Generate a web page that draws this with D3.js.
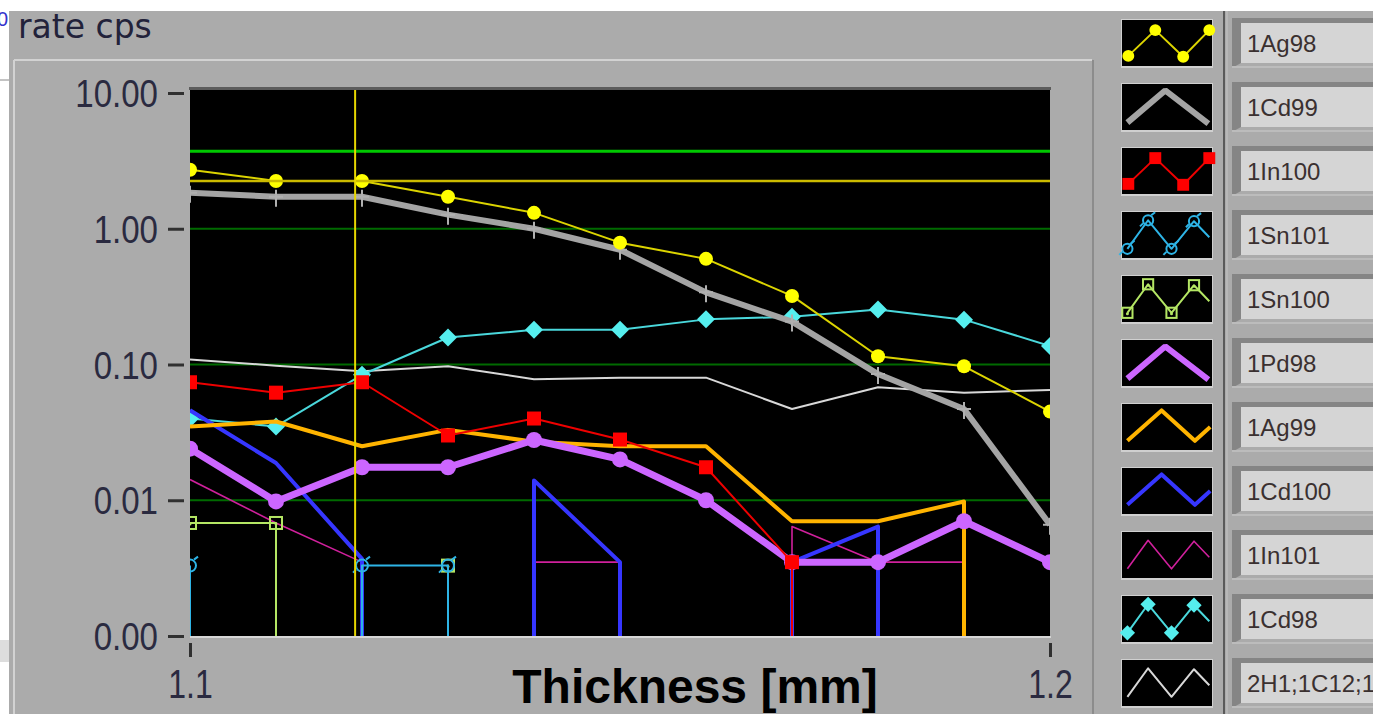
<!DOCTYPE html>
<html>
<head>
<meta charset="utf-8">
<script src="https://cdn.jsdelivr.net/npm/d3@7"></script>
<style>
  body { margin: 0; background: #fff; }
  svg { display: block; }
</style>
</head>
<body>
<svg width="1373" height="714"></svg>
<script>
//data
var thickness = [1.10, 1.11, 1.12, 1.13, 1.14, 1.15, 1.16, 1.17, 1.18, 1.19, 1.20];
var names = ['1Ag98', '1Cd99', '1In100', '1Sn101', '1Sn100', '1Pd98', '1Ag99', '1Cd100', '1In101', '1Cd98', '2H1;1C12;1'];
var ag98  = [2.72, 2.25, 2.25, 1.72, 1.31, 0.79, 0.60, 0.32, 0.115, 0.097, 0.045];
var cd99  = [1.84, 1.72, 1.72, 1.27, 1.0, 0.70, 0.34, 0.207, 0.085, 0.047, 0.0066];
var in100 = [0.074, 0.062, 0.074, 0.030, 0.040, 0.028, 0.0175, 0.0035, 0, 0, 0];
var sn101 = [0.0033, 0, 0.0033, 0.0033, 0, 0, 0, 0, 0, 0, 0];
var sn100 = [0.0068, 0.0068, 0, 0.0033, 0, 0, 0, 0, 0, 0, 0];
var pd98  = [0.024, 0.0098, 0.0175, 0.0175, 0.0278, 0.020, 0.010, 0.0035, 0.0035, 0.007, 0.0035];
var ag99  = [0.035, 0.038, 0.025, 0.033, 0.027, 0.025, 0.025, 0.0070, 0.0070, 0.0098, 0];
var cd100 = [0.046, 0.0188, 0.0037, 0, 0.014, 0.0035, 0, 0.0035, 0.0064, 0, 0];
var in101 = [0.0142, 0.0068, 0.0035, 0, 0.0035, 0.0035, 0, 0.0064, 0.0035, 0.0035, 0];
var cd98  = [0.040, 0.035, 0.084, 0.158, 0.18, 0.18, 0.215, 0.225, 0.254, 0.214, 0.137];
var h1c12 = [0.109, 0.098, 0.089, 0.097, 0.078, 0.08, 0.08, 0.047, 0.068, 0.062, 0.065];
var seriesValues = [ag98, cd99, in100, sn101, sn100, pd98, ag99, cd100, in101, cd98, h1c12];
var yTicks = [0.001, 0.01, 0.1, 1, 10];
var xTicks = [1.1, 1.2];
var gridValues = [0.01, 0.1, 1];
//cursors
var greenCursor = 3.73;
var yellowCursorY = 2.25;
var yellowCursorX = 1.1192;

//plot styles, same order as names
var styles = [
  {color: '#dcd400', fill: '#ffff00', width: 2, marker: 'circle', size: 7, legend: 'w4'},
  {color: '#a4a4a4', fill: '#a4a4a4', width: 6, marker: 'plus', size: 7, legend: 'peak'},
  {color: '#ee0000', fill: '#ff0000', width: 2, marker: 'square', size: 7, legend: 'w4'},
  {color: '#2eb4e6', fill: 'none', width: 2, marker: 'ring', size: 6, legend: 'w5'},
  {color: '#b4e664', fill: 'none', width: 2, marker: 'box', size: 6, legend: 'w5'},
  {color: '#cc66ff', fill: '#cc66ff', width: 7, marker: 'circle', size: 8, legend: 'peak'},
  {color: '#ffb400', fill: '#ffb400', width: 4, marker: null, size: 0, legend: 'w4m'},
  {color: '#3636ff', fill: '#3636ff', width: 4, marker: null, size: 0, legend: 'w4m'},
  {color: '#d0209c', fill: '#d0209c', width: 1.6, marker: null, size: 0, legend: 'w5'},
  {color: '#4ad8dc', fill: '#55eeee', width: 2, marker: 'diamond', size: 9, legend: 'w5'},
  {color: '#d8d8d8', fill: '#d8d8d8', width: 2, marker: null, size: 0, legend: 'w5'}
];
//legend swatch shapes (fractions of the swatch box)
var swatchShapes = {
  w4:   [[0.07, 0.78], [0.37, 0.22], [0.68, 0.8], [0.97, 0.22]],
  w4m:  [[0.06, 0.8], [0.44, 0.14], [0.81, 0.8], [0.98, 0.5]],
  peak: [[0.06, 0.84], [0.48, 0.14], [0.96, 0.86]],
  w5:   [[0.06, 0.8], [0.29, 0.18], [0.55, 0.8], [0.8, 0.2], [0.97, 0.55]]
};

var svg = d3.select('svg');
var svgWidth = +svg.attr('width');
var svgHeight = +svg.attr('height');
var plot = {l: 190, t: 90, r: 1050, b: 636};

//scales
var xScale = d3.scaleLinear().domain([1.1, 1.2]).range([plot.l, plot.r]);
var yScale = d3.scaleLog().domain([0.001, 10]).range([plot.b, 93]);

//background bits outside the panel
svg.append('rect').attr('width', svgWidth).attr('height', svgHeight).attr('fill', '#fff');
svg.append('text').attr('x', -3).attr('y', 26).attr('fill', '#3333cc')
  .style('font', '20px "Liberation Sans"').text('0');
svg.append('line').attr('x1', 0).attr('x2', 10).attr('y1', 80).attr('y2', 80)
  .attr('stroke', '#888').attr('stroke-width', 1);
svg.append('rect').attr('x', 0).attr('y', 640).attr('width', 9).attr('height', 22).attr('fill', '#ddd');

//panel
svg.append('rect').attr('x', 9).attr('y', 11).attr('width', svgWidth - 9).attr('height', svgHeight - 11)
  .attr('fill', '#ababab');
svg.append('line').attr('x1', 14).attr('x2', 1092).attr('y1', 60).attr('y2', 60)
  .attr('stroke', '#d2d2d2').attr('stroke-width', 2);
svg.append('line').attr('x1', 14).attr('x2', 14).attr('y1', 60).attr('y2', svgHeight)
  .attr('stroke', '#d2d2d2').attr('stroke-width', 2);
svg.append('line').attr('x1', 1093).attr('x2', 1093).attr('y1', 60).attr('y2', svgHeight)
  .attr('stroke', '#8c8c8c').attr('stroke-width', 2);
svg.append('line').attr('x1', 1224).attr('x2', 1224).attr('y1', 11).attr('y2', svgHeight)
  .attr('stroke', '#5a5a5a').attr('stroke-width', 2);
svg.append('line').attr('x1', 1227).attr('x2', 1227).attr('y1', 11).attr('y2', svgHeight)
  .attr('stroke', '#c4c4c4').attr('stroke-width', 1);

svg.append('text').attr('x', 18).attr('y', 38).attr('fill', '#22223a')
  .style('font', '33px "DejaVu Sans"').text('rate cps');

//plot area
svg.append('rect').attr('x', plot.l - 1).attr('y', plot.t - 3).attr('width', plot.r - plot.l + 2).attr('height', 3)
  .attr('fill', '#5c5c5c');
svg.append('rect').attr('x', plot.l).attr('y', plot.t).attr('width', plot.r - plot.l).attr('height', plot.b - plot.t)
  .attr('fill', '#000');
svg.append('rect').attr('x', plot.l).attr('y', plot.b).attr('width', plot.r - plot.l + 1).attr('height', 2)
  .attr('fill', '#d6d6d6');
svg.append('clipPath').attr('id', 'clip').append('rect')
  .attr('x', plot.l).attr('y', plot.t).attr('width', plot.r - plot.l).attr('height', plot.b - plot.t);

var plotG = svg.append('g').attr('clip-path', 'url(#clip)');

//grid
plotG.selectAll('.grid').data(gridValues).enter().append('line')
  .attr('class', 'grid')
  .attr('x1', plot.l).attr('x2', plot.r)
  .attr('y1', function(d) { return yScale(d); })
  .attr('y2', function(d) { return yScale(d); })
  .attr('stroke', '#006a00').attr('stroke-width', 2);

//zero values drop to the bottom edge, LabVIEW style
function toSegments(vals) {
  var segs = [], cur = [];
  vals.forEach(function(v, i) {
    if (v > 0) {
      if (cur.length === 0 && i > 0) cur.push([xScale(thickness[i]), plot.b + 4]);
      cur.push([xScale(thickness[i]), yScale(v)]);
    } else if (cur.length > 0) {
      cur.push([xScale(thickness[i - 1]), plot.b + 4]);
      segs.push(cur);
      cur = [];
    }
  });
  if (cur.length) segs.push(cur);
  return segs;
}

function drawMarker(g, st, cx, cy, k) {
  var s = st.size * k;
  if (st.marker === 'circle') {
    g.append('circle').attr('cx', cx).attr('cy', cy).attr('r', s).attr('fill', st.fill);
  } else if (st.marker === 'square') {
    g.append('rect').attr('x', cx - s).attr('y', cy - s).attr('width', 2 * s).attr('height', 2 * s).attr('fill', st.fill);
  } else if (st.marker === 'diamond') {
    g.append('path').attr('d', 'M' + cx + ',' + (cy - s) + 'L' + (cx + s) + ',' + cy + 'L' + cx + ',' + (cy + s) + 'L' + (cx - s) + ',' + cy + 'Z')
      .attr('fill', st.fill);
  } else if (st.marker === 'plus') {
    g.append('path').attr('d', 'M' + (cx - s) + ',' + cy + 'H' + (cx + s) + 'M' + cx + ',' + (cy - s) + 'V' + (cy + s + 3))
      .attr('stroke', '#b0b0b0').attr('stroke-width', 2).attr('fill', 'none');
  } else if (st.marker === 'ring') {
    g.append('circle').attr('cx', cx).attr('cy', cy).attr('r', s).attr('fill', 'none')
      .attr('stroke', st.color).attr('stroke-width', 2);
    g.append('path').attr('d', 'M' + (cx + s - 2) + ',' + (cy - s) + 'l4,-3M' + (cx - s) + ',' + (cy + s - 2) + 'l-3,3')
      .attr('stroke', st.color).attr('stroke-width', 2);
  } else if (st.marker === 'box') {
    g.append('rect').attr('x', cx - s).attr('y', cy - s).attr('width', 2 * s).attr('height', 2 * s).attr('fill', 'none')
      .attr('stroke', st.color).attr('stroke-width', 2);
    g.append('circle').attr('cx', cx).attr('cy', cy + 1).attr('r', 1.5).attr('fill', st.color);
  }
}

var line = d3.line();

//first plot ends up on top, so draw backwards
for (var i = seriesValues.length - 1; i >= 0; i--) {
  var st = styles[i];
  var g = plotG.append('g').attr('class', 'series');
  toSegments(seriesValues[i]).forEach(function(seg) {
    g.append('path').attr('d', line(seg)).attr('fill', 'none')
      .attr('stroke', st.color).attr('stroke-width', st.width)
      .attr('stroke-linejoin', 'round');
  });
  if (st.marker) {
    seriesValues[i].forEach(function(v, j) {
      if (v > 0) drawMarker(g, st, xScale(thickness[j]), yScale(v), 1);
    });
  }
}

//cursors
plotG.append('line').attr('x1', plot.l).attr('x2', plot.r)
  .attr('y1', yScale(greenCursor)).attr('y2', yScale(greenCursor))
  .attr('stroke', '#00c800').attr('stroke-width', 3);
plotG.append('line').attr('x1', plot.l).attr('x2', plot.r)
  .attr('y1', yScale(yellowCursorY)).attr('y2', yScale(yellowCursorY))
  .attr('stroke', '#ccbb00').attr('stroke-width', 2.5);
plotG.append('line').attr('x1', xScale(yellowCursorX)).attr('x2', xScale(yellowCursorX))
  .attr('y1', plot.t).attr('y2', plot.b)
  .attr('stroke', '#e6d600').attr('stroke-width', 2);

//axes
var yAxis = svg.append('g')
  .attr('transform', 'translate(' + [184, 0] + ')')
  .call(d3.axisLeft(yScale).tickValues(yTicks).tickFormat(d3.format('.2f')).tickSizeInner(16).tickSizeOuter(0).tickPadding(10));
yAxis.select('.domain').remove();
yAxis.selectAll('line').attr('stroke', '#303030').attr('stroke-width', 3);
yAxis.selectAll('text')
  .attr('x', null).attr('dy', '0.36em')
  .attr('transform', 'translate(-26,0) scale(0.87,1)')
  .attr('fill', '#2a2a40')
  .style('font', '38px "Liberation Sans"');

var xAxis = svg.append('g')
  .attr('transform', 'translate(' + [0, 643] + ')')
  .call(d3.axisBottom(xScale).tickValues(xTicks).tickFormat(d3.format('.1f')).tickSizeInner(14).tickSizeOuter(0).tickPadding(13));
xAxis.select('.domain').remove();
xAxis.selectAll('line').attr('stroke', '#303030').attr('stroke-width', 3);
xAxis.selectAll('text')
  .attr('fill', '#2a2a40')
  .attr('transform', 'scale(0.8,1)')
  .attr('x', 0)
  .style('font', '40px "Liberation Sans"');

svg.append('text').attr('x', 695).attr('y', 703).attr('text-anchor', 'middle')
  .attr('fill', '#000').style('font', 'bold 48px "Liberation Sans"').text('Thickness [mm]');

//legend
var pitch = 64;
names.forEach(function(name, i) {
  var top = 20 + pitch * i;
  var st = styles[i];
  var box = {x: 1122, y: top, w: 90, h: 46};
  svg.append('rect').attr('x', box.x - 1).attr('y', box.y - 1).attr('width', box.w + 2).attr('height', box.h + 3)
    .attr('fill', '#d0d0d0');
  svg.append('rect').attr('x', box.x).attr('y', box.y).attr('width', box.w).attr('height', box.h)
    .attr('fill', '#000');
  var sx = d3.scaleLinear().range([box.x, box.x + box.w]);
  var sy = d3.scaleLinear().range([box.y, box.y + box.h]);
  var pts = swatchShapes[st.legend].map(function(p) { return [sx(p[0]), sy(p[1])]; });
  var lg = svg.append('g');
  lg.append('path').attr('d', line(pts)).attr('fill', 'none')
    .attr('stroke', st.color).attr('stroke-width', Math.min(st.width, 6))
    .attr('stroke-linejoin', st.legend === 'peak' ? 'bevel' : 'round');
  if (st.marker && st.marker !== 'plus') {
    pts.slice(0, pts.length - (st.legend === 'w5' ? 1 : 0)).forEach(function(p) {
      drawMarker(lg, st, p[0], p[1], st.marker === 'circle' && st.size > 7 ? 0 : 0.85);
    });
  }

  //name field
  svg.append('path')
    .attr('d', 'M1232,' + (top - 2) + 'H' + svgWidth + 'V' + (top + 3) + 'H1241V' + (top + 43) + 'L1232,' + (top + 48) + 'Z')
    .attr('fill', '#858585');
  svg.append('rect').attr('x', 1241).attr('y', top + 3).attr('width', svgWidth - 1241).attr('height', 40)
    .attr('fill', '#d5d5d5');
  svg.append('line').attr('x1', 1232).attr('x2', svgWidth).attr('y1', top + 47).attr('y2', top + 47)
    .attr('stroke', '#bcbcbc').attr('stroke-width', 2);
  svg.append('text').attr('x', 1247).attr('y', top + 32)
    .attr('fill', '#3a3030').style('font', '24px "Liberation Sans"').text(name);
});
</script>
</body>
</html>
